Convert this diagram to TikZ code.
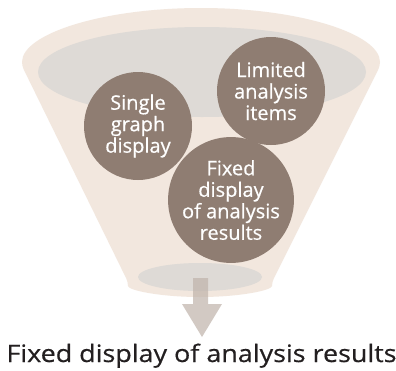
\documentclass[tikz,border=0pt]{standalone}
\usepackage{fontspec}
\setmainfont{Open Sans}
\newfontfamily\medfont{Open Sans}[FakeBold=0.5]
\definecolor{funnel}{HTML}{F2E7DE}
\definecolor{inner}{HTML}{DEDAD6}
\definecolor{bubble}{HTML}{8F7D72}
\definecolor{arrowc}{HTML}{BFB3AA}
\definecolor{txt}{HTML}{231F20}
\tikzset{
  bub/.style={circle, fill=bubble, minimum size=108pt, inner sep=0pt, text=white, align=center, font=\medfont\fontsize{20}{21.5}\selectfont},
}
\begin{document}
\begin{tikzpicture}[x=1pt,y=-1pt]
\useasboundingbox (0,0) rectangle (396,370);
\fill[white] (0,0) rectangle (396,370);
% funnel body
\fill[funnel, rounded corners=4pt] (22,66) arc[start angle=180, end angle=0, x radius=179, y radius=-58] -- (272,282) arc[start angle=0, end angle=-180, x radius=72, y radius=-15] -- cycle;
\fill[inner] (202,72) ellipse[x radius=164, y radius=45];
\fill[inner] (200,277) ellipse[x radius=62, y radius=14];
% bubbles
\node[bub] (single) at (138,126) {Single\\graph\\display};
\node[bub] (limited) at (271,91) {Limited\\analysis\\items};
\node[bub] (fixed) at (231,200) {Fixed\\display\\of analysis\\results};
% arrow
\fill[arrowc, opacity=0.7] (193,278) -- (208,278) -- (208,304) -- (222,304) -- (202,337) -- (182,304) -- (193,304) -- cycle;
\node[text=txt, font=\medfont\fontsize{24}{26}\selectfont, anchor=base, xscale=1.12, transform shape] (result) at (201.5,362) {Fixed display of analysis results};
\end{tikzpicture}
\end{document}
